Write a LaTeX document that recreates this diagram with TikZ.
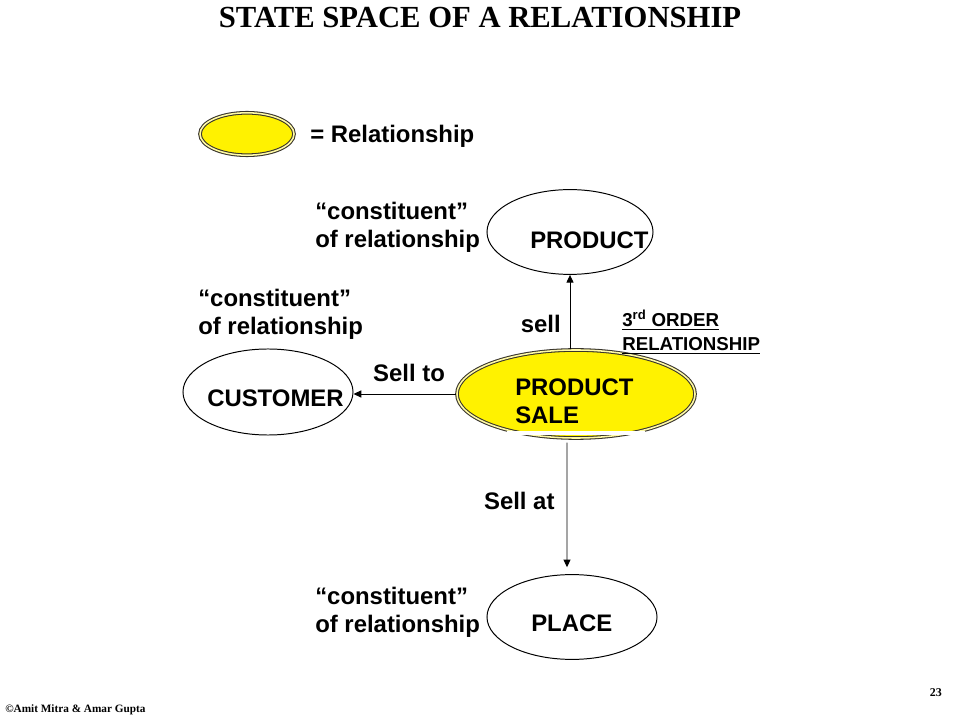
\documentclass[tikz,border=0pt]{standalone}
\usepackage{fontspec}
\setmainfont{Liberation Serif}
\setsansfont{Liberation Sans}
\usetikzlibrary{shapes.geometric,arrows.meta}

\begin{document}
\begin{tikzpicture}[x=0.025cm, y=-0.025cm,
        ent/.style={ellipse, draw, line width=0.7pt, inner sep=0pt},
        rel/.style={ellipse, draw=black!80!olive, fill=yellow, double=yellow!35!white, double distance=1.1pt, line width=0.75pt, inner sep=0pt},
        txt/.style={anchor=west, align=left, inner sep=0pt, font=\sffamily\bfseries\fontsize{17}{19.8}\selectfont},
        arr/.style={-{Triangle[length=5.5pt, width=5pt]}, line width=0.7pt}]
        \useasboundingbox (0,0) rectangle (960,720);
        \node[inner sep=0pt, font=\rmfamily\bfseries\fontsize{21.8}{24}\selectfont] (title) at (480,18) {STATE SPACE OF A RELATIONSHIP};
        \node[rel, minimum width=2.35cm, minimum height=1.06cm] (legend) at (247,134) {};
        \node[txt] (legendtext) at (310,136) {= Relationship};
        \node[ent, minimum width=4.15cm, minimum height=2.12cm] (product) at (570,232) {};
        \node[ent, minimum width=4.25cm, minimum height=2.15cm] (customer) at (268,392) {};
        \node[ent, minimum width=4.25cm, minimum height=2.12cm] (place) at (572,617) {};
        \node[rel, minimum width=5.95cm, minimum height=2.2cm] (sale) at (576,394) {};
        \draw[arr] (sale.north -| product.south) -- node[pos=0.34, left=0.22cm, txt, anchor=east] (selllabel) {sell} (product.south);
        \draw[arr] (sale.west) -- node[pos=0.46, above=0.3cm, txt, anchor=south] (selltolabel) {Sell to} (sale.west -| customer.east);
        \draw[arr, shorten <=0.1cm, shorten >=0.17cm] ([xshift=-0.225cm]sale.south) -- node[pos=0.46, left=0.3cm, txt, anchor=east] (sellatlabel) {Sell at} ([xshift=-0.125cm]place.north);
        \fill[white] (507,431) rectangle (645,435.5);
        \node[txt] (producttext) at (530,240) {PRODUCT};
        \node[txt] (customertext) at (207,398) {CUSTOMER};
        \node[txt] (placetext) at (531,623) {PLACE};
        \node[txt] (saletext) at (515,401) {PRODUCT\\SALE};
        \node[txt] (productrole) at (315,227) {“constituent”\\of relationship};
        \node[txt] (customerrole) at (198,314) {“constituent”\\of relationship};
        \node[txt] (placerole) at (315,612) {“constituent”\\of relationship};
        \node[txt, font=\sffamily\bfseries\fontsize{13.3}{17}\selectfont] (order) at (622,332) {\underline{3\textsuperscript{rd} ORDER}\\\underline{RELATIONSHIP}};
        \node[anchor=west, inner sep=0pt, font=\rmfamily\bfseries\fontsize{8}{9}\selectfont] (copyright) at (5,710) {©Amit Mitra \& Amar Gupta};
        \node[anchor=east, inner sep=0pt, font=\rmfamily\bfseries\fontsize{8.5}{9}\selectfont] (pagenum) at (942,693) {23};
    \end{tikzpicture}
\end{document}
